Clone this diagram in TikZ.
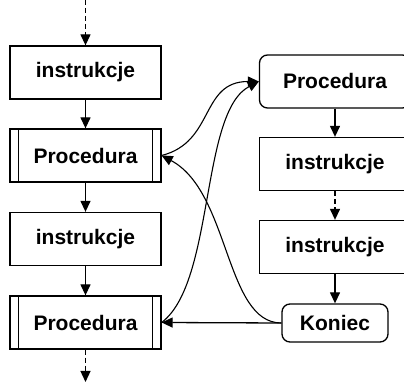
\documentclass[tikz,border=0pt]{standalone}
\usepackage{fontspec}
\setmainfont{Liberation Sans}
\usetikzlibrary{arrows.meta}

\begin{document}
\begin{tikzpicture}[x=1pt, y=1pt, line width=1.3pt, >={Triangle[length=11pt, width=10pt]},
    box/.style={draw, minimum width=151pt, minimum height=53pt, inner sep=0pt,
        font=\fontsize{21}{25}\selectfont\bfseries},
    procbox/.style={box},
    roundbox/.style={box, rounded corners=8pt}]
    \clip (0,0) rectangle (404,382);
    % lewa kolumna
    \coordinate (start) at (85.5,382);
    \coordinate (stop) at (85.5,0);
    \node [box] (instr1) at (85.5,309.5) {instrukcje};
    \node [procbox] (proc1) at (85.5,226.5) {Procedura};
    \node [box] (instr2) at (85.5,143) {instrukcje};
    \node [procbox] (proc2) at (85.5,59.5) {Procedura};
    \foreach \p in {proc1, proc2} {
        \draw ([xshift=9pt]\p.north west) -- ([xshift=9pt]\p.south west);
        \draw ([xshift=-9pt]\p.north east) -- ([xshift=-9pt]\p.south east);
    }
    % prawa kolumna
    \node [roundbox] (rproc) at (335,300.5) {Procedura};
    \node [box] (rinstr1) at (335,218) {instrukcje};
    \node [box] (rinstr2) at (335,135) {instrukcje};
    \node [roundbox, minimum width=106pt, minimum height=38pt] (koniec) at (335,59) {Koniec};
    % strzalki
    \draw [->, dash pattern=on 5pt off 3pt] (start) -- (instr1);
    \draw [->] (instr1) -- (proc1);
    \draw [->] (proc1) -- (instr2);
    \draw [->] (instr2) -- (proc2);
    \draw [->, dash pattern=on 5pt off 3pt] (proc2) -- (stop);
    \draw [->] (rproc) -- (rinstr1);
    \draw [->, dash pattern=on 5pt off 3pt] (rinstr1) -- (rinstr2);
    \draw [->] (rinstr2) -- (koniec);
    % wywolania i powroty
    \draw [->, line width=1.1pt] (proc1.east) .. controls (215,240) and (200,300.5) .. (rproc.west);
    \draw [->, line width=1.1pt] (proc2.east) .. controls (215,100) and (200,270) .. (rproc.west);
    \draw [->, line width=1.1pt] (koniec.west) .. controls (225,59) and (230,190) .. (proc1.east);
    \draw [->] (koniec.west) -- (proc2.east);
\end{tikzpicture}
\end{document}
